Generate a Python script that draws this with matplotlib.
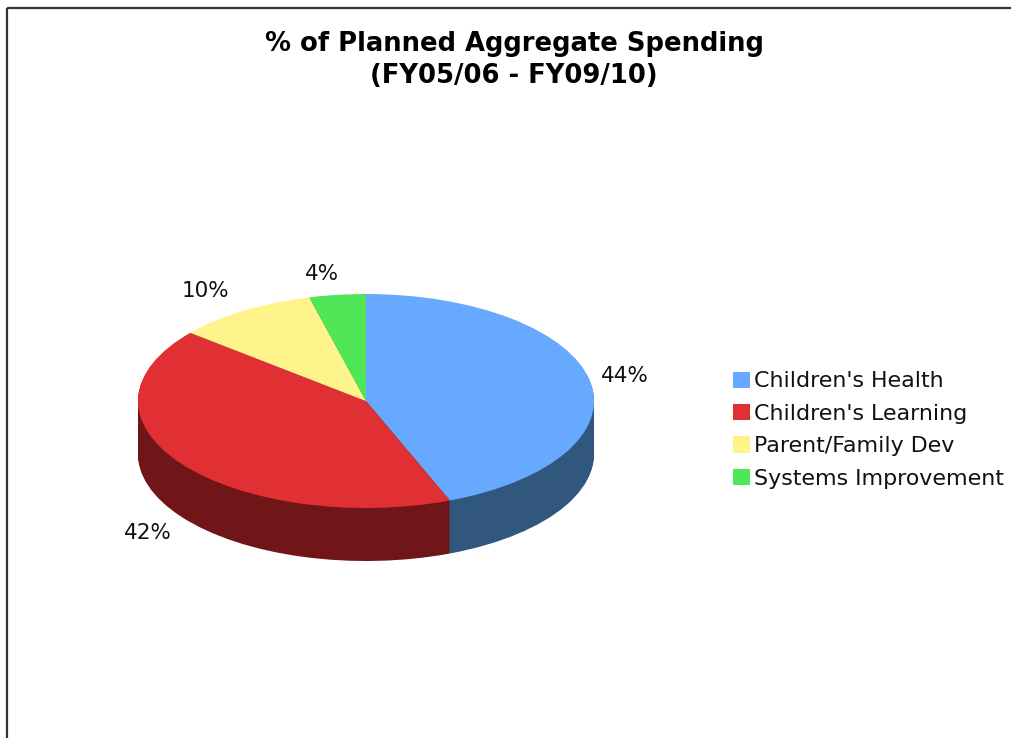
import matplotlib
matplotlib.use("Agg")
import matplotlib.pyplot as plt
from matplotlib.patches import Rectangle

categories = ["Children's Health", "Children's Learning", "Parent/Family Dev", "Systems Improvement"]
shares = [44, 42, 10, 4]
top_colors = ["#66A9FF", "#E03033", "#FFF48C", "#4FE658"]
side_colors = ["#32577F", "#701518", "#8C8650", "#2B7F30"]
title_lines = ["% of Planned Aggregate Spending", "(FY05/06 - FY09/10)"]

W, H = 1011, 738

plt.rcParams["font.family"] = "DejaVu Sans"
fig = plt.figure(figsize=(W / 100, H / 100), dpi=100)


def px(x, y):
    # pixel position, measured from the top left, to figure fraction
    return x / W, 1 - y / H


# outer border, runs off the right and bottom edges
fig.add_artist(Rectangle(px(7, 8), 1.2, -1.2, transform=fig.transFigure,
                         fill=False, ec="#333333", lw=1.6))

# pie axes: one data unit is rx pixels across and ry pixels down
cx, cy, rx, ry = 366, 401, 228, 107
depth = 53
pad = 5
left, bottom = px(cx - rx - pad, cy + ry + depth + pad)
ax = fig.add_axes([left, bottom, (2 * rx + 2 * pad) / W, (2 * ry + depth + 2 * pad) / H])

# side wall: dark copies of the pie stacked from the bottom up
for step in range(depth, 0, -1):
    ax.pie(shares, colors=side_colors, startangle=90, counterclock=False,
           center=(0, -step / ry), radius=1, wedgeprops={"lw": 0, "antialiased": True})

wedges, _ = ax.pie(shares, colors=top_colors, startangle=90, counterclock=False,
                   center=(0, 0), radius=1, wedgeprops={"lw": 0})

ax.set_aspect("auto")
ax.set_xlim(-1 - pad / rx, 1 + pad / rx)
ax.set_ylim(-1 - (depth + pad) / ry, 1 + pad / ry)
ax.axis("off")

# title
for line, y in zip(title_lines, [44, 76]):
    x0, y0 = px(514, y)
    fig.text(x0, y0, line, ha="center", va="center", fontsize=18.6, fontweight="bold", color="black")

# percentage labels
label_pos = [(625, 376), (148, 533), (205, 291), (322, 274)]
for v, (x, y) in zip(shares, label_pos):
    x0, y0 = px(x, y)
    fig.text(x0, y0, f"{v}%", ha="center", va="center", fontsize=15.5, color="#111111")

# legend
fig.legend(wedges, categories, loc="center left", bbox_to_anchor=px(733, 430),
           frameon=False, fontsize=15.9, handlelength=0.77, handleheight=0.77,
           handletextpad=0.17, labelspacing=0.56, labelcolor="#111111",
           borderpad=0, borderaxespad=0)

fig.savefig("out.png", dpi=100)
